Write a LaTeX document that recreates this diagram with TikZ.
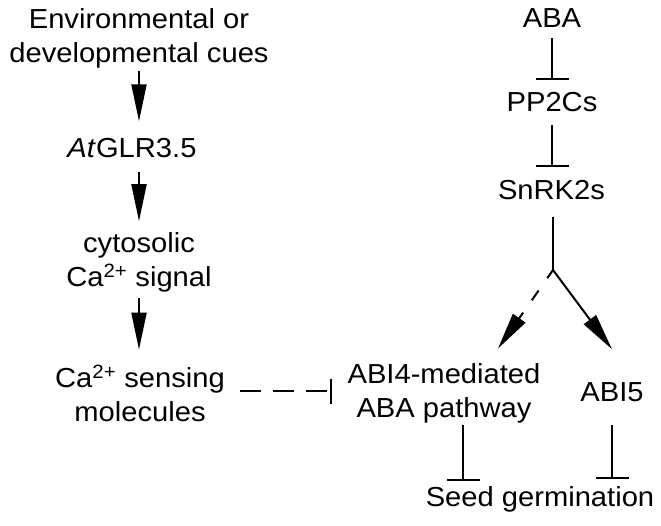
\documentclass[tikz,border=0pt]{standalone}
\usepackage{fontspec}
\setmainfont{Liberation Sans}[FakeStretch=1.06]
\usetikzlibrary{arrows.meta}
\begin{document}
\begin{tikzpicture}[x=1pt,y=-1pt,
  every node/.style={inner sep=0pt,outer sep=0pt,font=\fontsize{27.5}{34}\selectfont,align=center},
  one/.style={text height=19.7pt,text depth=5.8pt},
  conn/.style={line width=2pt},
  act/.style={conn,-{Triangle[length=37pt,width=15pt]}},
  inh/.style={conn,-{Bar[width=33pt]}},
  dashinh/.style={conn,dash pattern=on 21pt off 12pt,-{Bar[width=25pt]}},
  dashact/.style={conn,dash pattern=on 10pt off 15pt on 12pt off 15pt,-{Triangle[length=37pt,width=15pt]}}]
\useasboundingbox (0,0) rectangle (661,525);
% left column
\node (env) at (139,38.5) {Environmental or\\developmental cues};
\node[one] (glr) at (132,150.5) {\textit{At}GLR3.5};
\node (cyto) at (139,262) {cytosolic\\Ca\textsuperscript{2+} signal};
\node (sens) at (140,393) {Ca\textsuperscript{2+} sensing\\molecules};
% right column
\node[one] (aba) at (552,20.5) {ABA};
\node[one] (pp2c) at (552,104.5) {PP2Cs};
\node[one] (snrk) at (551.5,192.5) {SnRK2s};
\coordinate (br) at (553,270);
\node (abi4) at (444,393) {ABI4-mediated\\ABA pathway};
\node[one] (abi5) at (612,394.5) {ABI5};
\node[one] (seed) at (540,499.5) {Seed germination};
% connectors
\draw[act] ([yshift=-3pt]env.south) -- ([yshift=16.5pt]env.south |- glr.north);
\draw[act] ([xshift=7pt,yshift=-8.5pt]glr.south) -- ([yshift=11pt]cyto.north);
\draw[act] ([yshift=-6.5pt]cyto.south) -- ([yshift=15pt]cyto.south |- sens.north);
\draw[inh] ([yshift=-4.5pt]aba.south) -- ([yshift=11.5pt]pp2c.north);
\draw[inh] ([yshift=-7.5pt]pp2c.south) -- ([yshift=12.5pt]pp2c.south |- snrk.north);
\draw[conn] ([xshift=1.5pt,yshift=-11.5pt]snrk.south) -- (br);
\draw[act] (br) -- ([yshift=32.5pt]abi5.north);
\draw[dashact] (br) -- ([xshift=54pt,yshift=14.7pt]abi4.north);
\draw[inh] ([xshift=19pt,yshift=-2.5pt]abi4.south) -- ([xshift=19pt,yshift=-58pt]abi4.south);
\draw[inh] ([yshift=-17.5pt]abi5.south) -- ([xshift=72pt,yshift=7.5pt]seed.north);
\draw[dashinh] ([xshift=15pt,yshift=2pt]sens.east) -- ([xshift=-16pt,yshift=2pt]sens.east -| abi4.west);
\end{tikzpicture}
\end{document}
